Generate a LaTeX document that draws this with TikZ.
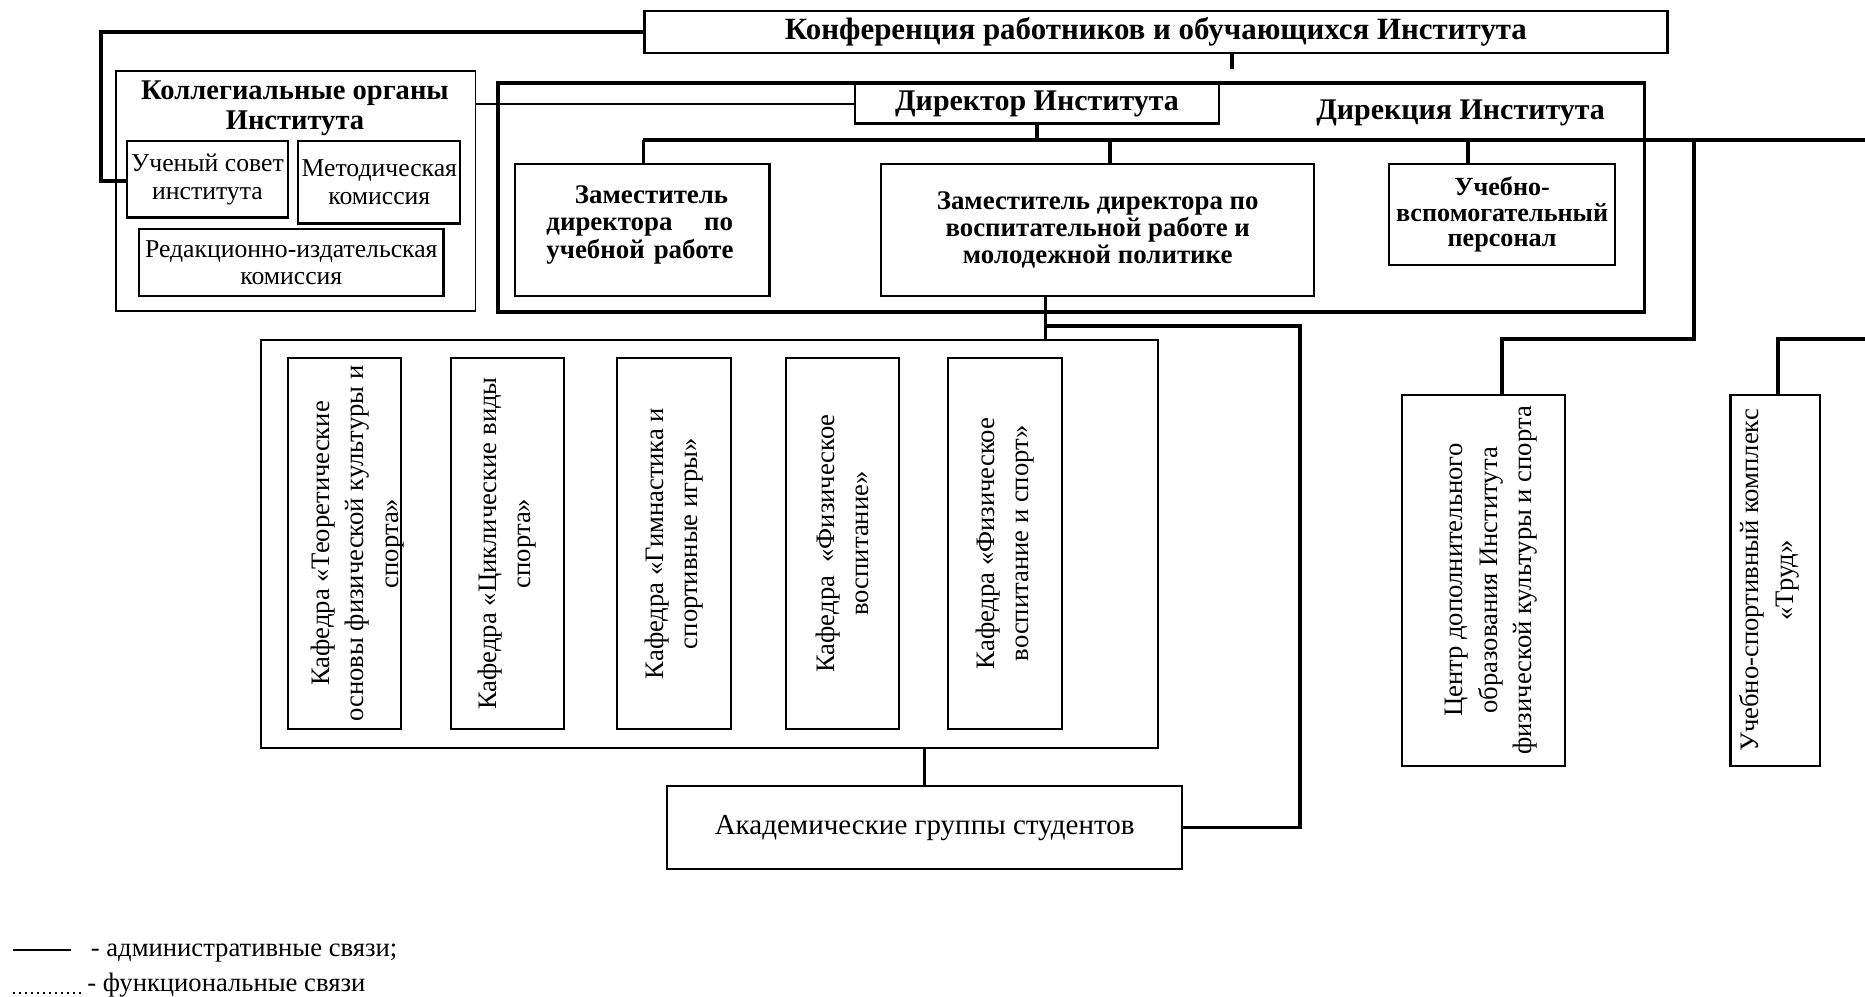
\documentclass[tikz,border=0pt]{standalone}
\usepackage{fontspec}
\setmainfont{Liberation Serif}
\begin{document}
\begin{tikzpicture}[x=0.5pt,y=-0.5pt,
  box/.style={draw, line width=0.9pt, inner sep=0pt, anchor=north west, align=center},
  lbox/.style={box, line width=0.75pt},
  hbox/.style={box, line width=1.6pt},
  conn/.style={line width=1.5pt},
  busline/.style={line width=1.7pt},
  tconn/.style={line width=0.8pt},
  boldtxt/.style={font=\fontsize{11.3}{11.3}\selectfont\bfseries},
  regtxt/.style={font=\fontsize{10.8}{11.6}\selectfont},
  vtext/.style={rotate=90, align=center, inner sep=0pt, font=\fontsize{11.2}{14.5}\selectfont},
  legtxt/.style={anchor=base west, font=\fontsize{11.2}{12}\selectfont, inner sep=0pt},
]
\useasboundingbox (0,0) rectangle (1568,838);

% top
\node[box, minimum width=430pt, minimum height=18pt, font=\fontsize{13}{14}\selectfont\bfseries] (konf) at (541,8) {Конференция работников и обучающихся Института};

% collegial bodies
\node[lbox, minimum width=151pt, minimum height=101pt] (koll) at (97,59) {};
\node[font=\fontsize{12}{12.5}\selectfont\bfseries, align=center, inner sep=0pt] (kolltitle) at (248,91) {Коллегиальные органы\\Института};
\node[box, regtxt, minimum width=67.5pt, minimum height=32pt] (uchsov) at (106,118) {Ученый совет\\института};
\node[box, regtxt, minimum width=68pt, minimum height=34.5pt] (metod) at (250,118) {Методическая\\комиссия};
\node[box, regtxt, minimum width=128pt, minimum height=28pt] (redak) at (116,192) {Редакционно-издательская\\комиссия};

% directorate
\node[hbox, minimum width=482pt, minimum height=96.5pt] (direk) at (417,68) {};
\node[font=\fontsize{12.6}{13}\selectfont\bfseries, inner sep=0pt] (direktitle) at (1228,95) {Дирекция Института};
\node[box, fill=white, minimum width=153pt, minimum height=16.5pt, font=\fontsize{12.6}{13}\selectfont\bfseries] (director) at (718,70) {Директор Института};
\node[box, minimum width=107pt, minimum height=55.5pt] (zamuch) at (432,137) {};
\node[font=\fontsize{11.3}{11.6}\selectfont\bfseries, align=left, text width=81pt, inner sep=0pt, anchor=west] (zamuchtext) at (459,189) {\hspace*{12pt}Заместитель\\\makebox[78.5pt][s]{директора\hfill по}\\учебной работе};
\node[box, boldtxt, minimum width=182pt, minimum height=55.5pt] (zamvos) at (740,137) {Заместитель директора по\\воспитательной работе и\\молодежной политике};
\node[box, font=\fontsize{11}{10.6}\selectfont\bfseries, minimum width=95pt, minimum height=42.5pt] (uchvsp) at (1167,137) {Учебно-\\вспомогательный\\персонал};

% departments
\node[lbox, minimum width=377pt, minimum height=171.5pt] (kafouter) at (219,285) {};
\node[box, minimum width=47.5pt, minimum height=156pt] (kaf1) at (241,300) {};
\node[box, minimum width=47.5pt, minimum height=156pt] (kaf2) at (378,300) {};
\node[box, minimum width=48pt, minimum height=156pt] (kaf3) at (518,300) {};
\node[box, minimum width=47.5pt, minimum height=156pt] (kaf4) at (660,300) {};
\node[box, minimum width=48pt, minimum height=156pt] (kaf5) at (796,300) {};
\node[vtext] (kaf1t) at ([xshift=5.5pt]kaf1.center) {Кафедра «Теоретические\\основы физической культуры и\\спорта»};
\node[vtext] (kaf2t) at (kaf2.center) {Кафедра «Циклические виды\\спорта»};
\node[vtext] (kaf3t) at (kaf3.center) {Кафедра «Гимнастика и\\спортивные игры»};
\node[vtext] (kaf4t) at (kaf4.center) {Кафедра\ \ «Физическое\\воспитание»};
\node[vtext] (kaf5t) at (kaf5.center) {Кафедра «Физическое\\воспитание и спорт»};

\node[box, font=\fontsize{12.2}{13}\selectfont, minimum width=216.5pt, minimum height=35pt] (akad) at (560,660) {Академические группы студентов};

% right side units
\node[box, minimum width=68.5pt, minimum height=156pt] (centr) at (1178,331) {};
\node[vtext] (centrt) at ([xshift=3.25pt]centr.center) {Центр дополнительного\\образования Института\\физической культуры и спорта};
\node[box, minimum width=37.5pt, minimum height=156pt] (uchsport) at (1454,331) {};
\node[vtext] (uchsportt) at ([xshift=-2.5pt]uchsport.center) {Учебно-спортивный комплекс\\«Труд»};

% connectors
\coordinate (c1) at (85,26);
\coordinate (c2) at (85,152);
\draw[conn] (konf.west) -- (konf.west -| c1) -- (c2) -- (c2 -| uchsov.west);
\draw[tconn] (director.west) -- (director.west -| koll.east);
\coordinate (k1) at (1036,58);
\draw[conn] (konf.south -| k1) -- (k1);
\coordinate (busL) at (541,118);
\coordinate (busR) at (1568,118);
\draw[conn] (director.south) -- (director.south |- busL);
\draw[busline] (busL) -- (busR);
\draw[conn] (busL) -- (busL |- zamuch.north);
\coordinate (b2) at (933,118);
\draw[conn] (b2) -- (b2 |- zamvos.north);
\coordinate (b3) at (1234,118);
\draw[conn] (b3) -- (b3 |- uchvsp.north);
\coordinate (b4) at (1424,118);
\coordinate (b5) at (1424,285);
\coordinate (b6) at (1263,285);
\draw[conn] (b4) -- (b5) -- (b6) -- (b6 |- centr.north);
\coordinate (r1) at (1568,285);
\coordinate (r2) at (1495,285);
\draw[conn] (r1) -- (r2) -- (r2 |- uchsport.north);
\coordinate (v1) at (879,274);
\draw[conn] (v1 |- zamvos.south) -- (v1 |- kafouter.north);
\coordinate (v2) at (1093,274);
\draw[conn] (v1) -- (v2) -- (v2 |- akad.east) -- (akad.east);
\draw[conn] (akad.north) -- (akad.north |- kafouter.south);

% legend
\coordinate (l1a) at (11,799);
\coordinate (l1b) at (60,799);
\coordinate (l2a) at (11,835);
\coordinate (l2b) at (70,835);
\draw[line width=0.75pt] (l1a) -- (l1b);
\draw[line width=0.9pt, dash pattern=on 0.9pt off 1.6pt] (l2a) -- (l2b);
\node[legtxt] (leg1) at (76,804.5) {- административные связи;};
\node[legtxt] (leg2) at (73,834) {- функциональные связи};
\end{tikzpicture}
\end{document}
